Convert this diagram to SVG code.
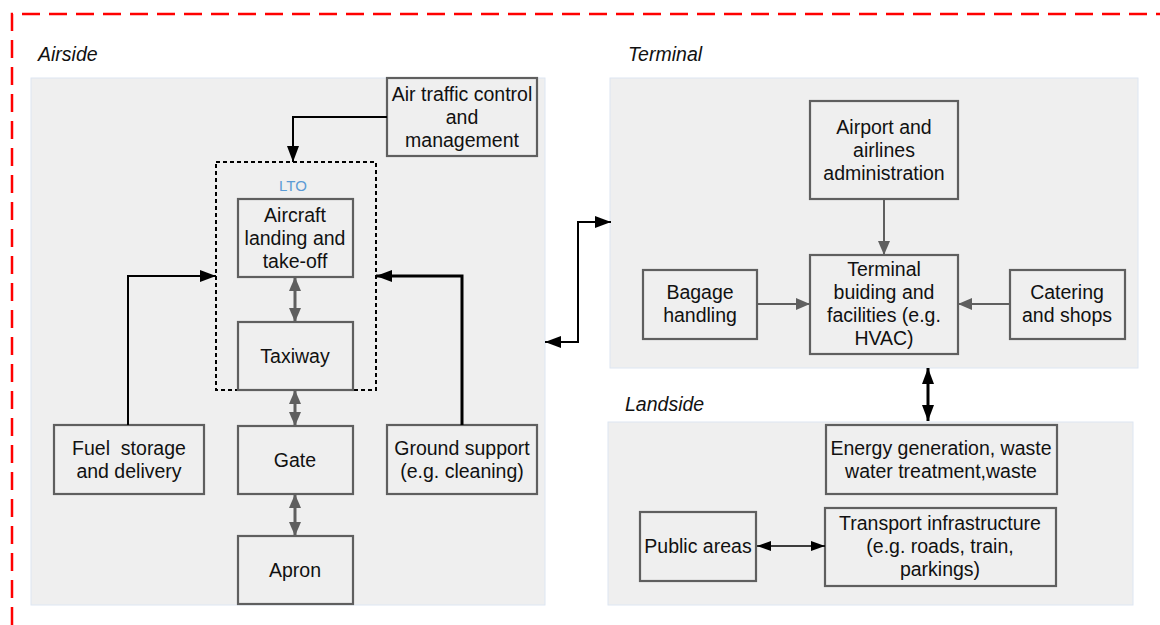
<svg xmlns="http://www.w3.org/2000/svg" width="1160" height="625" viewBox="0 0 1160 625">
<defs>
<style>
.panel{fill:#efefef;stroke:#dde6f2;stroke-width:1}
.box{fill:#efefef;stroke:#5f5f5f;stroke-width:2.2}
.t{font-family:"Liberation Sans",Arial,sans-serif;font-size:19.5px;fill:#111;text-anchor:middle}
.h{font-family:"Liberation Sans",Arial,sans-serif;font-size:19.5px;font-style:italic;fill:#111}
.k{fill:none;stroke:#000;stroke-width:2}
.g{fill:none;stroke:#5f5f5f;stroke-width:2}
</style>
<marker id="ak" viewBox="0 0 16 12" refX="16" refY="6" markerWidth="16" markerHeight="12" orient="auto-start-reverse" markerUnits="userSpaceOnUse"><path d="M0,0 L16,6 L0,12 z" fill="#000"/></marker>
<marker id="ag" viewBox="0 0 14 12" refX="14" refY="6" markerWidth="14" markerHeight="12" orient="auto-start-reverse" markerUnits="userSpaceOnUse"><path d="M0,0 L14,6 L0,12 z" fill="#5f5f5f"/></marker>
<marker id="as" viewBox="0 0 14 10" refX="14" refY="5" markerWidth="14" markerHeight="10" orient="auto-start-reverse" markerUnits="userSpaceOnUse"><path d="M0,0 L14,5 L0,10 z" fill="#000"/></marker>
</defs>
<rect width="1160" height="625" fill="#fff"/>
<path d="M12,625 L12,14 L1160,14" fill="none" stroke="#ff0000" stroke-width="2.5" stroke-dasharray="18,9"/>
<g id="panels">
<rect class="panel" x="31" y="78" width="514" height="527"/>
<rect class="panel" x="610" y="78" width="528" height="290"/>
<rect class="panel" x="608" y="422" width="525" height="183"/>
<text class="h" x="38" y="61">Airside</text>
<text class="h" x="628" y="61">Terminal</text>
<text class="h" x="625" y="411">Landside</text>
</g>
<g id="lto">
<rect x="216" y="162" width="160" height="228" fill="none" stroke="#000" stroke-width="2" stroke-dasharray="4,3"/>
<text x="293" y="191" font-family="'Liberation Sans',Arial,sans-serif" font-size="15" fill="#5b9bd5" text-anchor="middle">LTO</text>
</g>
<g id="atc"><rect class="box" x="387" y="78" width="150" height="78"/><text class="t" x="462" y="101">Air traffic control</text><text class="t" x="462" y="124">and</text><text class="t" x="462" y="147">management</text></g>
<g id="aircraft"><rect class="box" x="238" y="199" width="115" height="78"/><text class="t" x="295" y="222">Aircraft</text><text class="t" x="295" y="245">landing and</text><text class="t" x="295" y="268">take-off</text></g>
<g id="taxiway"><rect class="box" x="238" y="322" width="115" height="68"/><text class="t" x="295" y="363">Taxiway</text></g>
<g id="gate"><rect class="box" x="238" y="426" width="115" height="68"/><text class="t" x="295" y="467">Gate</text></g>
<g id="apron"><rect class="box" x="238" y="536" width="115" height="68"/><text class="t" x="295" y="577">Apron</text></g>
<g id="fuel"><rect class="box" x="54" y="425" width="150" height="69"/><text class="t" x="129" y="455" xml:space="preserve">Fuel  storage</text><text class="t" x="129" y="478">and delivery</text></g>
<g id="ground"><rect class="box" x="387" y="425" width="150" height="69"/><text class="t" x="462" y="455">Ground support</text><text class="t" x="462" y="478">(e.g. cleaning)</text></g>
<g id="admin"><rect class="box" x="810" y="101" width="148" height="98"/><text class="t" x="884" y="134">Airport and</text><text class="t" x="884" y="157">airlines</text><text class="t" x="884" y="180">administration</text></g>
<g id="bagage"><rect class="box" x="643" y="270" width="114" height="69"/><text class="t" x="700" y="299">Bagage</text><text class="t" x="700" y="322">handling</text></g>
<g id="terminal"><rect class="box" x="810" y="255" width="148" height="99"/><text class="t" x="884" y="276">Terminal</text><text class="t" x="884" y="299">buiding and</text><text class="t" x="884" y="322">facilities (e.g.</text><text class="t" x="884" y="345">HVAC)</text></g>
<g id="catering"><rect class="box" x="1010" y="270" width="115" height="69"/><text class="t" x="1067" y="299">Catering</text><text class="t" x="1067" y="322">and shops</text></g>
<g id="energy"><rect class="box" x="826" y="425" width="231" height="69"/><text class="t" x="941" y="455">Energy generation, waste</text><text class="t" x="941" y="478">water treatment,waste</text></g>
<g id="public"><rect class="box" x="640" y="512" width="116" height="69"/><text class="t" x="698" y="553">Public areas</text></g>
<g id="transport"><rect class="box" x="825" y="508" width="231" height="78"/><text class="t" x="940" y="530">Transport infrastructure</text><text class="t" x="940" y="553">(e.g. roads, train,</text><text class="t" x="940" y="576">parkings)</text></g>
<g id="connectors">
<path class="k" d="M387,117 H293 V162" marker-end="url(#ak)"/>
<path class="k" d="M128,425 V276 H216" marker-end="url(#ak)"/>
<path class="k" d="M462,425 V276 H376" style="stroke-width:3" marker-end="url(#ak)"/>
<path class="g" d="M295,277 V322" style="stroke-width:3" marker-start="url(#ag)" marker-end="url(#ag)"/>
<path class="g" d="M295,390 V426" style="stroke-width:3" marker-start="url(#ag)" marker-end="url(#ag)"/>
<path class="g" d="M295,494 V536" style="stroke-width:3" marker-start="url(#ag)" marker-end="url(#ag)"/>
<path class="k" d="M545,342 H578 V222 H611" marker-start="url(#ak)" marker-end="url(#ak)"/>
<path class="g" d="M884,199 V255" marker-end="url(#ag)"/>
<path class="g" d="M757,304 H810" marker-end="url(#ag)"/>
<path class="g" d="M1010,304 H958" marker-end="url(#ag)"/>
<path class="k" d="M928,368 V421" style="stroke-width:3" marker-start="url(#ak)" marker-end="url(#ak)"/>
<path class="k" d="M757,546 H825" style="stroke-width:1.5" marker-start="url(#as)" marker-end="url(#as)"/>
</g>
</svg>
